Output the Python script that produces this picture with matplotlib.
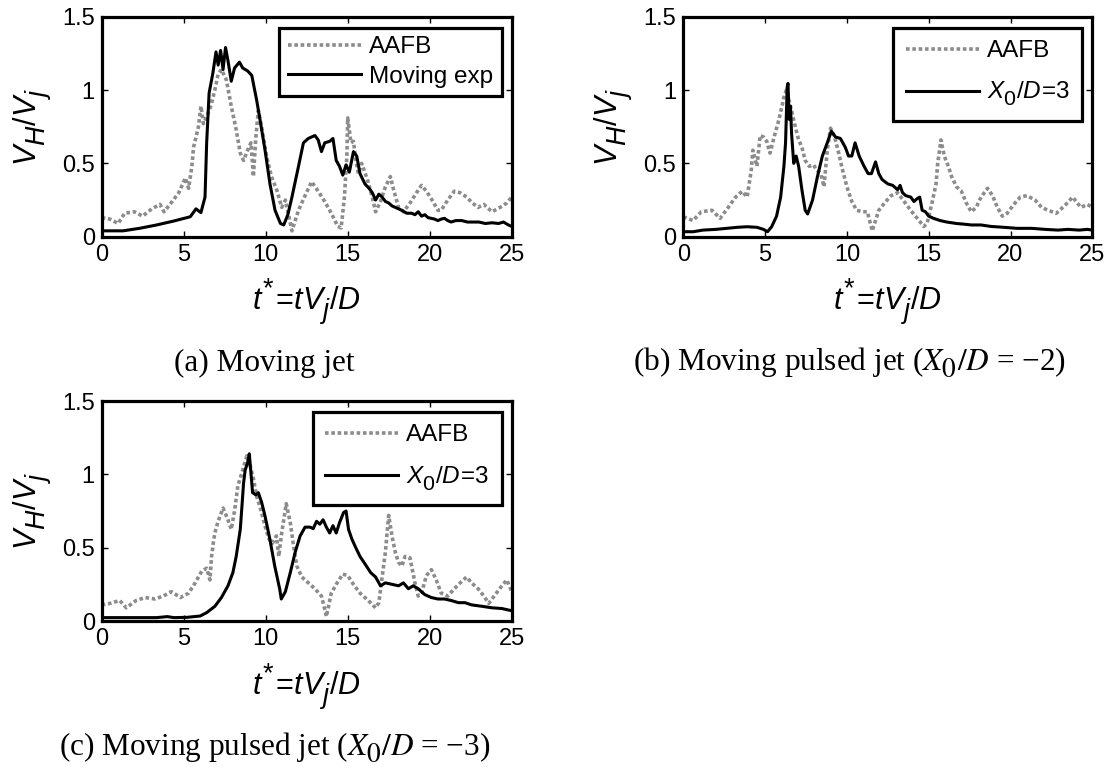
import matplotlib
matplotlib.use("Agg")
import matplotlib.pyplot as plt

try:
    from matplotlib import _mathtext as _mt
    _mt.SHRINK_FACTOR = 0.88
    _mt.FontConstantsBase.sub1 = 0.55
    _mt.FontConstantsBase.sub2 = 0.75
except Exception:
    pass

plt.rcParams['font.family'] = ['Liberation Sans', 'DejaVu Sans']
plt.rcParams['mathtext.fontset'] = 'custom'
plt.rcParams['mathtext.rm'] = 'Liberation Sans'
plt.rcParams['mathtext.it'] = 'Liberation Sans:italic'
plt.rcParams['mathtext.bf'] = 'Liberation Sans:bold'
plt.rcParams['mathtext.sf'] = 'Liberation Sans'

# ---------------- data ----------------
# (a) Moving jet
a_aafb_t = [0.0, 0.5, 1.0, 1.4, 2.0, 2.5, 3.05, 3.55, 3.8, 4.3, 4.7, 5.1, 5.3, 5.5, 5.6, 5.75, 5.9,
            6.05, 6.2, 6.4, 6.65, 6.9, 7.1, 7.3, 7.6, 7.9, 8.2, 8.45, 8.65, 8.9, 9.1, 9.25, 9.4,
            9.55, 9.75, 10.05, 10.35, 10.67, 10.98, 11.2, 11.6, 12.0, 12.4, 12.8, 13.2, 13.6,
            14.0, 14.4, 14.6, 14.8, 14.95, 15.0, 15.2, 15.35, 15.5, 15.65, 15.85, 16.2, 16.5,
            16.7, 17.0, 17.3, 17.6, 17.8, 18.1, 18.4, 18.8, 19.2, 19.5, 19.8, 20.2, 20.5, 20.7,
            21.1, 21.5, 21.85, 22.25, 22.6, 22.95, 23.3, 23.8, 24.3, 24.7, 25.0]
a_aafb_v = [0.13, 0.12, 0.09, 0.16, 0.17, 0.14, 0.19, 0.22, 0.17, 0.24, 0.30, 0.40, 0.33, 0.48, 0.61,
            0.68, 0.75, 0.89, 0.77, 0.82, 0.89, 1.00, 1.11, 1.14, 1.07, 0.89, 0.73, 0.57, 0.52, 0.59,
            0.64, 0.41, 0.68, 0.86, 0.75, 0.55, 0.41, 0.32, 0.20, 0.25, 0.04, 0.18, 0.28, 0.375,
            0.31, 0.24, 0.16, 0.07, 0.06, 0.27, 0.55, 0.81, 0.64, 0.65, 0.52, 0.43, 0.50, 0.39,
            0.27, 0.17, 0.24, 0.34, 0.41, 0.32, 0.20, 0.17, 0.23, 0.30, 0.35, 0.31, 0.24, 0.18,
            0.18, 0.25, 0.31, 0.30, 0.27, 0.23, 0.20, 0.22, 0.17, 0.20, 0.23, 0.27]
a_exp_t = [0.0, 1.3, 2.3, 3.35, 4.4, 5.4, 5.75, 6.05, 6.3, 6.4, 6.55, 6.77, 6.97, 7.1, 7.25, 7.4,
           7.55, 7.7, 7.9, 8.1, 8.4, 8.6, 8.9, 9.15, 9.45, 9.65, 9.96, 10.26, 10.57, 10.9, 11.1,
           11.35, 11.6, 12.0, 12.3, 12.6, 13.0, 13.2, 13.4, 13.6, 13.9, 14.1, 14.3, 14.5, 14.7,
           14.9, 15.1, 15.35, 15.55, 15.75, 16.05, 16.3, 16.5, 16.7, 16.9, 17.1, 17.3, 17.5, 17.7,
           17.9, 18.1, 18.3, 18.6, 18.9, 19.1, 19.3, 19.5, 19.7, 19.9, 20.1, 20.3, 20.5, 20.7,
           20.9, 21.1, 21.3, 21.6, 21.95, 22.3, 22.6, 23.0, 23.4, 23.8, 24.2, 24.5, 24.8, 25.0]
a_exp_v = [0.04, 0.04, 0.057, 0.08, 0.107, 0.136, 0.19, 0.164, 0.27, 0.64, 0.98, 1.11, 1.26, 1.17,
           1.27, 1.14, 1.29, 1.20, 1.06, 1.15, 1.19, 1.15, 1.13, 1.10, 0.93, 0.80, 0.59, 0.36,
           0.18, 0.09, 0.08, 0.15, 0.27, 0.48, 0.64, 0.67, 0.69, 0.66, 0.58, 0.64, 0.65, 0.67,
           0.52, 0.48, 0.42, 0.49, 0.44, 0.58, 0.55, 0.43, 0.36, 0.33, 0.30, 0.25, 0.29, 0.27,
           0.24, 0.23, 0.21, 0.20, 0.19, 0.18, 0.16, 0.16, 0.15, 0.17, 0.14, 0.15, 0.13, 0.125,
           0.12, 0.11, 0.12, 0.125, 0.11, 0.10, 0.11, 0.11, 0.10, 0.10, 0.10, 0.09, 0.095, 0.09,
           0.10, 0.08, 0.07]

# (b) Moving pulsed jet X0/D = -2
b_aafb_t = [0.0, 0.6, 1.1, 1.75, 2.25, 2.75, 3.2, 3.6, 3.9, 4.15, 4.25, 4.5, 4.7, 4.9, 5.1, 5.3,
            5.6, 5.85, 6.15, 6.3, 6.55, 6.8, 7.05, 7.25, 7.45, 7.7, 7.95, 8.2, 8.4, 8.6, 8.8, 9.0,
            9.25, 9.5, 9.7, 10.0, 10.3, 10.6, 10.95, 11.25, 11.55, 11.95, 12.3, 12.7, 13.1, 13.5,
            13.9, 14.3, 14.7, 14.9, 15.2, 15.45, 15.55, 15.75, 15.95, 16.2, 16.4, 16.7, 17.0,
            17.3, 17.6, 17.9, 18.2, 18.6, 18.9, 19.2, 19.5, 19.8, 20.2, 20.6, 21.0, 21.5, 21.9,
            22.3, 22.8, 23.3, 23.8, 24.3, 24.7, 25.0]
b_aafb_v = [0.136, 0.11, 0.17, 0.18, 0.125, 0.20, 0.27, 0.31, 0.27, 0.45, 0.59, 0.48, 0.69, 0.68,
            0.65, 0.57, 0.70, 0.80, 0.95, 1.00, 0.89, 0.77, 0.66, 0.61, 0.52, 0.48, 0.49, 0.45,
            0.43, 0.34, 0.59, 0.74, 0.68, 0.57, 0.47, 0.34, 0.24, 0.18, 0.17, 0.17, 0.04, 0.18,
            0.23, 0.28, 0.30, 0.24, 0.18, 0.125, 0.07, 0.09, 0.23, 0.36, 0.50, 0.66, 0.55, 0.48,
            0.41, 0.34, 0.31, 0.23, 0.17, 0.20, 0.27, 0.33, 0.28, 0.20, 0.14, 0.16, 0.22, 0.27,
            0.28, 0.25, 0.20, 0.18, 0.16, 0.21, 0.27, 0.20, 0.22, 0.20]
b_exp_t = [0.0, 0.6, 1.2, 2.0, 2.65, 3.3, 3.9, 4.5, 4.9, 5.15, 5.4, 5.7, 5.95, 6.15, 6.25, 6.35,
           6.4, 6.47, 6.55, 6.62, 6.75, 6.9, 7.05, 7.25, 7.45, 7.6, 7.9, 8.2, 8.5, 8.8, 9.05,
           9.3, 9.6, 9.9, 10.1, 10.3, 10.5, 10.75, 11.05, 11.3, 11.5, 11.75, 11.95, 12.15, 12.5,
           12.8, 13.1, 13.25, 13.4, 13.6, 13.9, 14.1, 14.3, 14.45, 14.6, 14.8, 15.0, 15.3, 15.7,
           16.1, 16.7, 17.2, 17.6, 18.2, 18.8, 19.6, 20.4, 21.3, 22.1, 22.9, 23.5, 24.2, 24.7,
           25.0]
b_exp_v = [0.034, 0.034, 0.045, 0.05, 0.057, 0.064, 0.068, 0.064, 0.05, 0.034, 0.068, 0.14, 0.27,
           0.48, 0.64, 1.02, 1.045, 0.80, 0.89, 0.70, 0.50, 0.55, 0.48, 0.32, 0.18, 0.155, 0.25,
           0.41, 0.55, 0.64, 0.72, 0.68, 0.67, 0.61, 0.55, 0.55, 0.64, 0.55, 0.48, 0.43, 0.43,
           0.51, 0.43, 0.39, 0.36, 0.35, 0.32, 0.35, 0.30, 0.28, 0.27, 0.24, 0.26, 0.27, 0.18,
           0.17, 0.14, 0.125, 0.11, 0.10, 0.09, 0.085, 0.08, 0.08, 0.07, 0.064, 0.057, 0.057,
           0.05, 0.045, 0.05, 0.045, 0.05, 0.045]

# (c) Moving pulsed jet X0/D = -3
c_aafb_t = [0.0, 0.5, 1.1, 1.5, 2.1, 2.65, 3.25, 3.75, 4.25, 4.8, 5.3, 5.7, 6.1, 6.4, 6.6, 6.7,
            6.8, 6.9, 7.1, 7.4, 7.7, 7.9, 8.1, 8.3, 8.6, 8.85, 9.05, 9.25, 9.45, 9.7, 9.95, 10.2,
            10.4, 10.65, 10.8, 10.95, 11.25, 11.5, 11.7, 11.9, 12.2, 12.6, 13.0, 13.4, 13.6,
            13.7, 14.0, 14.3, 14.7, 15.0, 15.35, 15.75, 16.25, 16.7, 16.9, 17.1, 17.3, 17.4,
            17.5, 17.7, 17.9, 18.1, 18.3, 18.5, 18.8, 19.1, 19.3, 19.5, 19.8, 20.1, 20.4, 20.7,
            21.1, 21.5, 21.95, 22.25, 22.55, 22.95, 23.3, 23.6, 24.0, 24.4, 24.7, 25.0]
c_aafb_v = [0.11, 0.12, 0.14, 0.09, 0.14, 0.16, 0.15, 0.17, 0.20, 0.16, 0.19, 0.26, 0.34, 0.36,
            0.28, 0.44, 0.53, 0.60, 0.68, 0.77, 0.69, 0.625, 0.75, 0.92, 1.03, 1.125, 1.06, 0.97,
            0.85, 0.76, 0.65, 0.56, 0.53, 0.58, 0.44, 0.58, 0.80, 0.67, 0.51, 0.375, 0.30, 0.26,
            0.22, 0.17, 0.08, 0.03, 0.19, 0.25, 0.32, 0.31, 0.25, 0.19, 0.14, 0.09, 0.125, 0.30,
            0.47, 0.60, 0.72, 0.58, 0.47, 0.40, 0.375, 0.44, 0.43, 0.26, 0.17, 0.19, 0.31, 0.35,
            0.28, 0.19, 0.17, 0.22, 0.27, 0.30, 0.26, 0.22, 0.17, 0.12, 0.18, 0.24, 0.28, 0.20]
c_exp_t = [0.0, 1.3, 3.35, 4.0, 4.4, 5.2, 6.0, 6.4, 6.9, 7.3, 7.7, 8.0, 8.2, 8.45, 8.55, 8.65,
           8.75, 8.9, 9.0, 9.1, 9.2, 9.4, 9.55, 9.75, 9.95, 10.25, 10.55, 10.85, 10.95, 11.2,
           11.5, 11.8, 12.1, 12.4, 12.7, 12.9, 13.1, 13.3, 13.5, 13.7, 13.9, 14.1, 14.3, 14.5,
           14.75, 14.9, 15.05, 15.25, 15.45, 15.75, 16.05, 16.4, 16.7, 17.0, 17.3, 17.7, 18.1,
           18.4, 18.7, 19.0, 19.3, 19.7, 20.1, 20.5, 20.9, 21.3, 21.75, 22.15, 22.55, 23.2,
           23.8, 24.4, 25.0]
c_exp_v = [0.023, 0.023, 0.023, 0.03, 0.023, 0.025, 0.034, 0.057, 0.10, 0.16, 0.24, 0.33, 0.44,
           0.625, 0.78, 0.94, 1.03, 1.08, 1.14, 1.01, 0.875, 0.86, 0.875, 0.81, 0.72, 0.56,
           0.375, 0.22, 0.15, 0.20, 0.33, 0.47, 0.58, 0.64, 0.64, 0.63, 0.68, 0.66, 0.69, 0.64,
           0.60, 0.65, 0.60, 0.67, 0.74, 0.75, 0.625, 0.56, 0.51, 0.44, 0.39, 0.33, 0.30, 0.24,
           0.26, 0.25, 0.24, 0.26, 0.22, 0.24, 0.22, 0.18, 0.16, 0.15, 0.15, 0.14, 0.125, 0.125,
           0.11, 0.10, 0.09, 0.085, 0.07]

panels = [
    (a_aafb_t, a_aafb_v, a_exp_t, a_exp_v, "Moving exp", 0.3, 0.35),
    (b_aafb_t, b_aafb_v, b_exp_t, b_exp_v, r"$X_{\mathrm{0}}/D\!=\!3$", 0.75, 0.5),
    (c_aafb_t, c_aafb_v, c_exp_t, c_exp_v, r"$X_{\mathrm{0}}/D\!=\!3$", 0.75, 0.5),
]

x_ticks = [0, 5, 10, 15, 20, 25]
y_ticks = [0, 0.5, 1, 1.5]
y_ticklabels = ["0", "0.5", "1", "1.5"]

W, H = 1118, 767
fig = plt.figure(figsize=(W / 100, H / 100), dpi=100)

axes_px = [(101.7, 16.7, 410, 220), (683.3, 16.7, 409, 220), (101.7, 401, 410, 220)]

for (at, av, et, ev, lab, lsp, bpad), (x0, y0, w, h) in zip(panels, axes_px):
    ax = fig.add_axes([x0 / W, 1 - (y0 + h) / H, w / W, h / H])
    ax.plot(at, av, color='#8c8c8c', lw=2.6, linestyle=(0, (1.0, 0.75)),
            dash_capstyle='butt', label='AAFB', zorder=2)
    ax.plot(et, ev, color='black', lw=2.2, label=lab, zorder=3)
    ax.set_xlim(0, 25)
    ax.set_ylim(0, 1.5)
    ax.set_xticks(x_ticks)
    ax.set_xticklabels([str(v) for v in x_ticks])
    ax.set_yticks(y_ticks)
    ax.set_yticklabels(y_ticklabels)
    ax.tick_params(direction='in', top=True, right=True, length=4, width=1,
                   labelsize=17, pad=5)
    for s in ax.spines.values():
        s.set_linewidth(2.3)
    ax.set_xlabel(r"$t^{*}\!=\!tV_j/D$", fontsize=22, labelpad=8)
    ax.set_ylabel(r"$V_H/V_j$", fontsize=22, labelpad=6)
    leg = ax.legend(loc='upper right', bbox_to_anchor=(0.976, 0.949), borderaxespad=0,
                    fontsize=17.5, frameon=True, fancybox=False, framealpha=1,
                    edgecolor='black', handlelength=3.0, handletextpad=0.35,
                    borderpad=bpad, labelspacing=lsp)
    leg.get_frame().set_linewidth(2.3)

serif = ['Liberation Serif', 'DejaVu Serif']
fig.text(264 / W, 1 - 363 / H, "(a) Moving jet", family=serif, fontsize=22.5,
         ha='center', va='center')
fig.text(850 / W, 1 - 363 / H, "(b) Moving pulsed jet ($X_{0}/D$ = \u22122)", family=serif,
         fontsize=22.5, ha='center', va='center', math_fontfamily='stix')
fig.text(275 / W, 1 - 748 / H, "(c) Moving pulsed jet ($X_{0}/D$ = \u22123)", family=serif,
         fontsize=22.5, ha='center', va='center', math_fontfamily='stix')

fig.savefig("out.png", dpi=100)
